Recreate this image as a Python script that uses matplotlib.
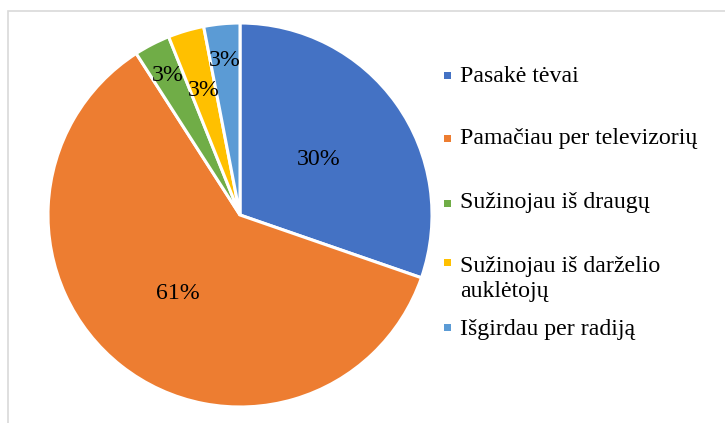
import numpy as np
import matplotlib.pyplot as plt
from matplotlib.patches import Rectangle

# duomenys
kategorijos = ["Pasakė tėvai", "Pamačiau per televizorių", "Sužinojau iš draugų",
               "Sužinojau iš darželio\nauklėtojų", "Išgirdau per radiją"]
reiksmes = [10, 20, 1, 1, 1]
spalvos = ["#4472C4", "#ED7D31", "#70AD47", "#FFC000", "#5B9BD5"]

plt.rcParams['font.family'] = ['Liberation Serif', 'DejaVu Serif']

W, H = 725, 423
fig = plt.figure(figsize=(W / 100, H / 100), dpi=100)

# pilkas rėmelis
fig.patches.append(Rectangle((8 / W, -0.1), 1.2, (H - 11) / H + 0.1,
                             transform=fig.transFigure, fill=False,
                             edgecolor="#D9D9D9", linewidth=1.2))

cx, cy, r = 240, 215, 192
ax = fig.add_axes([(cx - r) / W, (H - cy - r) / H, 2 * r / W, 2 * r / H])

wedges, texts, autotexts = ax.pie(reiksmes, colors=spalvos, startangle=90,
                                  counterclock=False, autopct='%1.0f%%',
                                  wedgeprops=dict(edgecolor='white', linewidth=2.2),
                                  textprops=dict(fontsize=17.2, color='black'))
ax.set_xlim(-1, 1)
ax.set_ylim(-1, 1)
ax.set_aspect('equal')

# užrašų atstumai nuo centro
atstumai = [0.5, 0.52, 0.82, 0.675, 0.81]
for w, t, d in zip(wedges, autotexts, atstumai):
    ang = np.deg2rad((w.theta1 + w.theta2) / 2)
    t.set_position((d * np.cos(ang), d * np.sin(ang)))

# legenda
linijos = [82, 144, 208, 272, 335]
zymekliai = [76, 139, 204, 262, 327]
for lab, col, yb, ym in zip(kategorijos, spalvos, linijos, zymekliai):
    fig.patches.append(Rectangle((444 / W, (H - ym - 3.5) / H), 7 / W, 7 / H,
                                 transform=fig.transFigure, facecolor=col,
                                 edgecolor='none'))
    eil = lab.split("\n")
    for i, e in enumerate(eil):
        fig.text(460 / W, (H - yb - 25 * i) / H, e, fontsize=17.2,
                 va='baseline', ha='left')

plt.savefig("out.png", dpi=100)
